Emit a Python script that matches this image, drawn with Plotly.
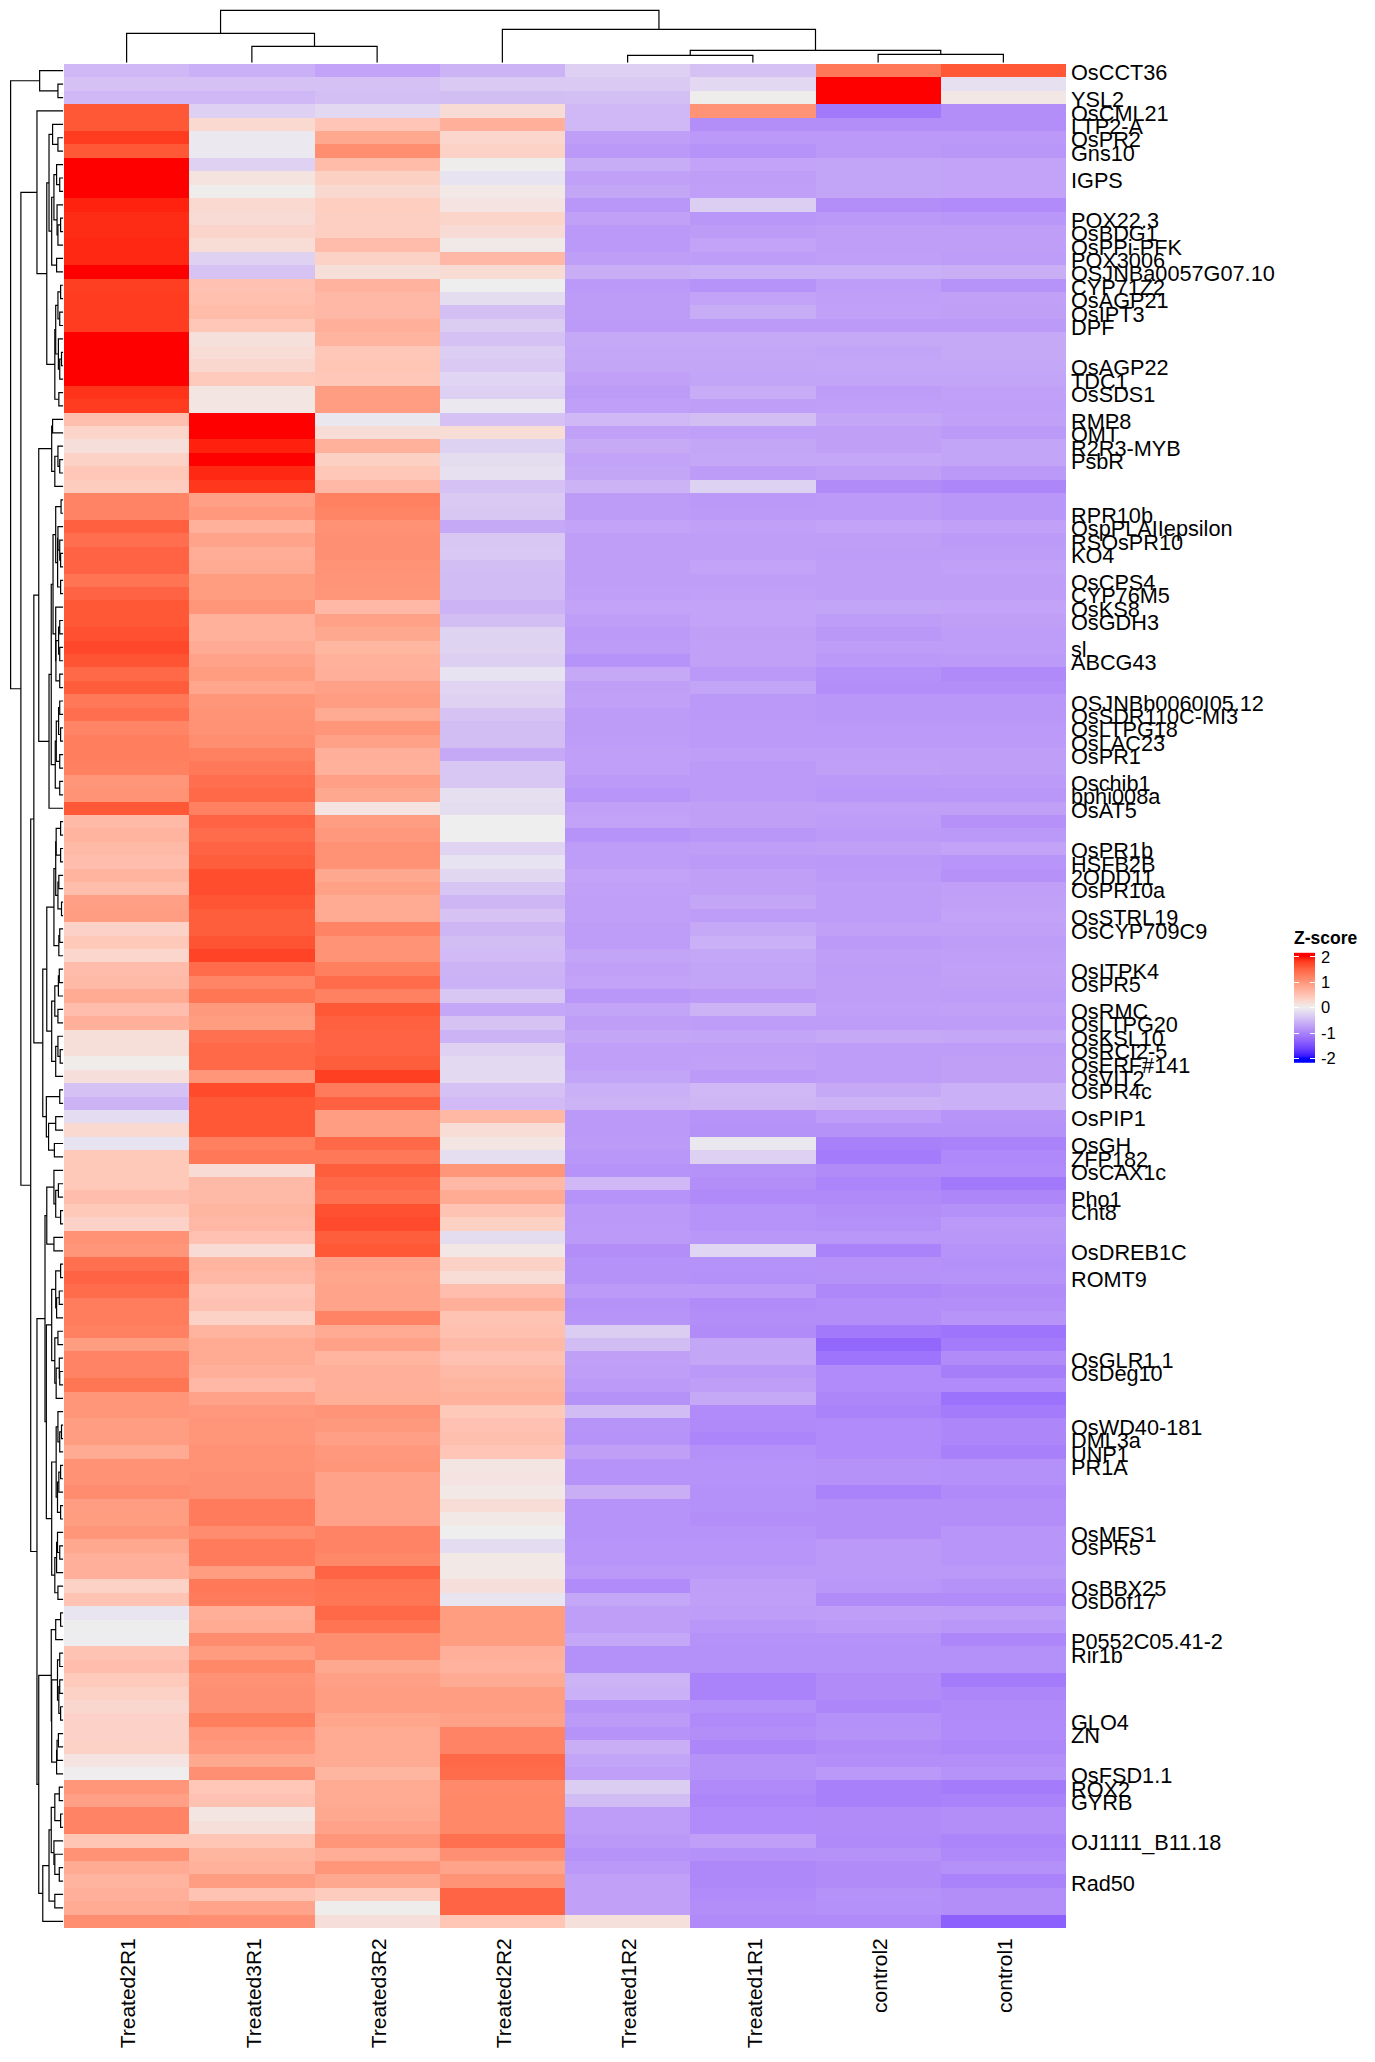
import numpy as np
import plotly.graph_objects as go

W, H = 1375, 2062

samples = ["Treated2R1", "Treated3R1", "Treated3R2", "Treated2R2",
           "Treated1R2", "Treated1R1", "control2", "control1"]

# z-scores per sample, top row first
treated2r1 = [-.5,-.42,-.5,1.6,1.6,1.8,1.6,2.1,2.1,2.1,
    1.92,1.88,1.88,1.9,1.9,2.1,1.78,1.8,1.8,1.8,
    2.1,2.1,2.1,2.1,1.85,1.8,.54,.3,.17,.33,
    .45,.4,1.2,1.2,1.53,1.4,1.5,1.5,1.35,1.5,
    1.6,1.6,1.65,1.72,1.63,1.45,1.57,1.3,1.4,1.18,
    1.25,1.25,1.22,1.0,1.03,1.6,.6,.67,.6,.55,
    .67,.56,.9,.92,.32,.43,.28,.57,.6,.78,
    .55,.72,.18,.18,.03,.17,-.42,-.55,-.17,.25,
    -.1,.43,.43,.43,.55,.43,.32,1.05,1.0,1.38,
    1.5,1.42,1.27,1.27,1.22,.93,1.2,1.2,1.33,1.0,
    1.0,.92,.92,.77,1.05,1.04,1.1,.92,.93,1.0,
    .8,.72,.72,.33,.5,-.08,-.01,-.02,.5,.55,
    .42,.33,.27,.32,.32,.33,.12,.01,1.0,.9,
    1.2,1.2,.48,1.05,.78,.67,.72,.78,1.08]
treated3r1 = [-.58,-.42,-.5,-.28,.25,-.05,-.05,-.27,.13,.02,
    .25,.22,.29,.2,-.27,-.4,.52,.53,.58,.45,
    .16,.2,.27,.42,.1,.1,2.1,2.1,1.93,2.1,
    1.9,1.83,.9,.98,.7,.86,.75,.77,.93,.93,
    1.0,.7,.7,.78,.87,.93,.83,1.0,1.03,1.05,
    1.08,1.22,1.3,1.4,1.45,1.22,1.5,1.42,1.5,1.55,
    1.68,1.68,1.62,1.55,1.55,1.63,1.75,1.42,1.18,1.33,
    .97,.93,1.38,1.45,1.45,1.0,1.7,1.6,1.6,1.6,
    1.24,1.3,.22,.6,.6,.65,.62,.52,.22,.67,
    .62,.46,.52,.33,.67,.77,.77,.72,.62,.87,
    .98,1.0,1.0,1.05,1.04,1.07,1.07,1.28,1.28,1.1,
    1.28,1.28,.93,1.3,1.28,.73,.77,1.1,.95,1.15,
    1.05,1.07,1.07,1.25,1.02,.98,.8,1.07,.45,.52,
    .1,.18,.48,.65,.7,.92,.5,.86,1.07]
treated3r2 = [-.7,-.42,-.44,-.2,.47,.8,1.08,.58,.35,.26,
    .38,.37,.36,.57,.33,.18,.68,.62,.62,.72,
    .67,.45,.48,.45,.92,.92,-.07,.2,.7,.35,
    .45,.62,1.22,1.18,1.05,1.07,1.07,1.03,1.02,1.0,
    .62,.88,.8,.64,.7,.72,.88,.92,.78,1.0,
    .88,.72,.7,.9,.8,.12,.92,.98,1.05,1.05,
    .8,.88,.77,.77,1.2,1.03,1.03,1.24,1.42,1.22,
    1.6,1.53,1.5,1.5,1.55,1.78,1.28,1.52,.92,.92,
    1.45,1.3,1.55,1.45,1.38,1.65,1.7,1.55,1.6,.87,
    .83,.85,.85,1.2,.78,.88,.66,.72,.72,.73,
    1.02,.97,.9,.98,1.0,.87,.87,.87,.87,1.2,
    1.2,1.15,1.48,1.35,1.33,1.45,1.35,1.08,1.08,.8,
    .9,.92,.92,.83,.78,.78,.78,.65,.78,.78,
    .8,.87,1.0,.75,1.0,.8,.4,.02,.17]
treated2r2 = [-.55,-.33,-.45,.22,.72,.28,.33,.02,-.1,.07,
    .12,.3,.22,.06,.62,.23,0,-.16,-.44,-.32,
    -.42,-.3,-.33,-.23,-.28,-.05,-.42,.2,-.26,-.16,
    -.13,-.42,-.33,-.36,-.65,-.37,-.35,-.45,-.47,-.47,
    -.55,-.45,-.25,-.25,-.29,-.1,-.24,-.27,-.4,-.45,
    -.45,-.64,-.36,-.37,-.14,-.16,0,0,-.24,-.1,
    -.21,-.38,-.52,-.4,-.52,-.45,-.48,-.55,-.57,-.37,
    -.66,-.4,-.55,-.27,-.18,-.18,-.42,-.48,.63,.2,
    .1,-.15,1.0,.62,.78,.5,.35,-.16,.08,.33,
    .2,.55,.72,.5,.53,.6,.52,.6,.65,.7,
    .43,.52,.54,.46,.1,.12,.07,.2,.07,0,
    -.17,.07,.07,.17,-.08,.93,.93,.93,.72,.68,
    .78,.92,.92,.88,1.2,1.2,1.45,1.42,1.13,1.15,
    1.15,1.15,1.38,1.07,.86,1.03,1.48,1.48,.48]
treated1r2 = [-.28,-.33,-.44,-.5,-.5,-.75,-.8,-.62,-.72,-.67,
    -.82,-.72,-.8,-.8,-.75,-.6,-.8,-.77,-.77,-.78,
    -.65,-.66,-.67,-.72,-.77,-.74,-.5,-.72,-.63,-.7,
    -.67,-.55,-.77,-.77,-.7,-.75,-.75,-.75,-.75,-.74,
    -.7,-.75,-.78,-.77,-.85,-.64,-.73,-.72,-.77,-.77,
    -.76,-.74,-.74,-.78,-.83,-.72,-.7,-.85,-.76,-.76,
    -.7,-.72,-.74,-.74,-.76,-.76,-.68,-.72,-.7,-.82,
    -.68,-.75,-.67,-.74,-.74,-.68,-.58,-.55,-.8,-.8,
    -.78,-.82,-.85,-.5,-.85,-.8,-.8,-.78,-.9,-.86,
    -.86,-.78,-.86,-.84,-.32,-.47,-.73,-.75,-.78,-.86,
    -.47,-.84,-.85,-.73,-.85,-.85,-.6,-.85,-.85,-.85,
    -.83,-.83,-.8,-.93,-.66,-.75,-.75,-.66,-.88,-.88,
    -.55,-.58,-.84,-.78,-.85,-.6,-.68,-.74,-.32,-.47,
    -.76,-.76,-.8,-.85,-.8,-.72,-.72,-.72,.16]
treated1r1 = [-.42,-.2,.02,1.03,-.9,-.8,-.85,-.7,-.75,-.74,
    -.3,-.82,-.77,-.7,-.76,-.58,-.85,-.7,-.62,-.78,
    -.65,-.66,-.67,-.68,-.61,-.75,-.45,-.74,-.67,-.66,
    -.77,-.26,-.8,-.78,-.72,-.75,-.75,-.7,-.75,-.72,
    -.7,-.7,-.73,-.72,-.72,-.8,-.68,-.8,-.8,-.78,
    -.78,-.75,-.78,-.78,-.78,-.73,-.73,-.82,-.75,-.78,
    -.73,-.73,-.67,-.76,-.64,-.58,-.66,-.68,-.68,-.78,
    -.55,-.76,-.68,-.74,-.72,-.78,-.5,-.52,-.84,-.86,
    -.07,-.28,-.86,-.9,-.94,-.85,-.85,-.82,-.23,-.86,
    -.88,-.78,-.92,-.9,-.92,-.67,-.67,-.8,-.75,-.64,
    -.93,-.94,-.98,-.88,-.85,-.85,-.88,-.88,-.9,-.85,
    -.83,-.83,-.8,-.75,-.74,-.76,-.82,-.86,-.88,-.88,
    -1.0,-1.0,-.88,-.94,-.9,-.97,-.86,-.86,-.94,-.97,
    -.93,-.93,-.74,-.88,-.96,-.96,-.93,-.9,-.94]
control2 = [1.3,2.1,2.1,-1.1,-.9,-.8,-.8,-.68,-.68,-.68,
    -.9,-.8,-.75,-.75,-.74,-.58,-.76,-.74,-.72,-.78,
    -.64,-.68,-.66,-.68,-.76,-.74,-.67,-.73,-.73,-.66,
    -.73,-.92,-.78,-.78,-.7,-.75,-.76,-.75,-.75,-.75,
    -.68,-.76,-.81,-.76,-.8,-.88,-.9,-.82,-.82,-.8,
    -.78,-.75,-.73,-.8,-.82,-.73,-.76,-.78,-.73,-.8,
    -.78,-.76,-.76,-.76,-.72,-.78,-.75,-.76,-.75,-.75,
    -.74,-.76,-.65,-.76,-.76,-.76,-.64,-.55,-.76,-.86,
    -1.03,-1.08,-.92,-.98,-.94,-.9,-.88,-.82,-1.0,-.87,
    -.86,-.96,-.9,-.9,-1.1,-1.27,-1.15,-.93,-.93,-.97,
    -1.0,-.93,-.93,-.93,-.86,-.86,-1.0,-.9,-.9,-.9,
    -.8,-.8,-.8,-.82,-.92,-.75,-.78,-.86,-.88,-.88,
    -.92,-.92,-.97,-.88,-.86,-.92,-.9,-.8,-1.02,-1.02,
    -.92,-.92,-.94,-.86,-.92,-.92,-.86,-.88,-.94]
control1 = [1.6,-.13,.08,-.9,-.9,-.8,-.82,-.7,-.7,-.7,
    -.93,-.82,-.75,-.75,-.76,-.6,-.85,-.72,-.73,-.78,
    -.64,-.64,-.66,-.68,-.72,-.74,-.72,-.78,-.68,-.68,
    -.8,-.97,-.82,-.82,-.72,-.78,-.76,-.72,-.75,-.75,
    -.7,-.73,-.76,-.76,-.78,-.94,-.9,-.82,-.82,-.8,
    -.78,-.75,-.75,-.78,-.82,-.73,-.87,-.8,-.7,-.83,
    -.87,-.74,-.72,-.7,-.72,-.76,-.74,-.72,-.73,-.76,
    -.72,-.76,-.66,-.76,-.73,-.73,-.58,-.58,-.84,-.86,
    -1.0,-.95,-.93,-1.1,-.97,-.88,-.8,-.82,-.85,-.88,
    -.85,-.92,-.9,-.84,-1.15,-1.08,-.92,-1.05,-.93,-1.17,
    -1.08,-.97,-.97,-1.03,-.88,-.88,-.94,-.9,-.9,-.83,
    -.83,-.83,-.8,-.86,-.93,-.76,-.82,-.97,-.88,-.88,
    -1.08,-.97,-.94,-.94,-.93,-.96,-.9,-.85,-1.08,-1.0,
    -.9,-.9,-.98,-.95,-.88,-1.0,-.9,-.9,-1.33]

# Gene names that get a label, with the row each one sits on
label_rows = [0,2,3,4,5,6,8,11,12,13,14,15,16,17,18,19,22,23,24,26,27,28,29,
    33,34,35,36,38,39,40,41,43,44,47,48,49,50,51,53,54,55,58,59,60,61,63,64,
    67,68,70,71,72,73,74,75,76,78,80,81,82,84,85,88,90,96,97,101,102,103,104,
    109,110,113,114,117,118,123,124,127,128,129,132,135]
label_names = ["OsCCT36","YSL2","OsCML21","LTP2-A","OsPR2","Gns10","IGPS","POX22.3",
    "OsBDG1","OsPPi-PFK","POX3006","OSJNBa0057G07.10","CYP71Z2","OsAGP21","OsIPT3",
    "DPF","OsAGP22","TDC1","OsSDS1","RMP8","OMT","R2R3-MYB","PsbR",
    "RPR10b","OspPLAIIepsilon","RSOsPR10","KO4","OsCPS4","CYP76M5","OsKS8","OsGDH3",
    "sl","ABCG43","OSJNBb0060I05.12","OsSDR110C-MI3","OsLTPG18","OsLAC23","OsPR1",
    "Oschib1","bphi008a","OsAT5","OsPR1b","HSFB2B","2ODD11","OsPR10a","OsSTRL19",
    "OsCYP709C9","OsITPK4","OsPR5","OsRMC","OsLTPG20","OsKSL10","OsRCI2-5",
    "OsERF#141","OsVIT2","OsPR4c","OsPIP1","OsGH","ZFP182","OsCAX1c","Pho1","Cht8",
    "OsDREB1C","ROMT9","OsGLR1.1","OsDeg10","OsWD40-181","DML3a","UNP1","PR1A",
    "OsMFS1","OsPR5","OsBBX25","OsDof17","P0552C05.41-2","Rir1b","GLO4","ZN",
    "OsFSD1.1","ROX2","GYRB","OJ1111_B11.18","Rad50"]

# Clustering trees: (merge height, first branch, second branch); ints are leaves
col_tree = (52.4, (29.4, 0, (16.4, 1, 2)),
            (33.4, 3, (12.4, (7.4, 4, 5), (8.4, 6, 7))))

rows_0_2 = (53, 0, (12, 1, 2))
rows_4_15 = (32, (24, 4, (12, 5, 6)),
             (26, (21, (15, 7, (8, 8, 9)), (14, 10, (12, (6, 11, 12), 13))), (15, 14, 15)))
rows_16_25 = (19, (17, (12, (6, 16, 17), (8, 18, 19)),
                   (11, 20, (8, (4, 21, 22), 23))), (10, 24, 25))
rows_3_25 = (59, 3, (37, rows_4_15, rows_16_25))
rows_26_31 = (26, (24, 26, 27), (19, (12, 28, (8, 29, 30)), 31))
rows_32_39 = (17, (5, 32, 33), (12.7, (12, 34, (8, 35, (6, 36, 37))), (6, 38, 39)))
rows_40_46 = (17, 40, (16.5, (10.5, (8, 41, 42), (8, 43, 44)), (8, 45, 46)))
rows_47_54 = (18, (15.7, (10.5, (8, 47, 48), (6, 49, 50)), (8, 51, 52)), (8, 53, 54))
rows_26_55 = (55, rows_26_31, (32, (27, (23, rows_32_39, rows_40_46), rows_47_54), 55))
rows_56_75 = (37, (21, (17, (16, (6, 56, 57), (6, 58, 59)), (12, (10, 60, 61), (4, 62, 63))),
                   (10, (8, 64, 65), 66)),
              (26, (19, (11, (9, 67, 68), 69), (12, 70, 71)),
               (17, (12, 72, (7, 73, 74)), 75)))
rows_76_81 = (38, (8, 76, 77), (33, (17, 78, 79), (20, 80, 81)))
rows_82_88 = (37, (21, 82, (17, (11, 83, 84), (6, 85, 86))), (21, 87, 88))
rows_89_114 = (38,
    (26, (17, (6, 89, 90), (15, (9, 91, 92), 93)),
     (19, (12, 94, 95), (16, (9, 96, (8, 97, 98)), 99))),
    (26, (16, (12, 100, (8, (4, 101, 102), 103)),
          (13, (10, (6, 104, 105), 106), (6, 107, 108))),
     (19, (15, (13, 109, (8, 110, 111)), 112), (12, 113, 114))))
rows_115_127 = (27, (17, (6, 115, 116), 117),
                (26, (13, (8, 118, 119), (10, (8, 120, 121), (6, 122, 123))),
                 (15, (14, (11, 124, 125), 126), 127)))
rows_128_138 = (46, (32, (27, (19, (9, 128, 129), (6, 130, 131)),
                          (21, 132, (19, 133, (9, 134, 135)))),
                     (19, 136, 137)), 138)
rows_lower = (73, (66, rows_26_55, (46, rows_56_75, rows_76_81)),
              (59, (41, rows_82_88, rows_89_114), (55, rows_115_127, rows_128_138)))
row_tree = (118, rows_0_2, (95, rows_3_25, rows_lower))

# Heatmap scale: blue -> grey -> red, interpolated in CIE LAB
def hex_to_lab(rgb):
    c = np.array(rgb, float) / 255
    c = np.where(c > 0.04045, ((c + 0.055) / 1.055) ** 2.4, c / 12.92)
    m = np.array([[.4124564, .3575761, .1804375], [.2126729, .7151522, .0721750],
                  [.0193339, .1191920, .9503041]])
    xyz = m @ c / np.array([.95047, 1.0, 1.08883])
    f = np.where(xyz > 0.008856, np.cbrt(xyz), 7.787 * xyz + 16 / 116)
    return np.array([116 * f[1] - 16, 500 * (f[0] - f[1]), 200 * (f[1] - f[2])])

def lab_to_rgb_string(lab):
    fy = (lab[0] + 16) / 116
    f = np.array([fy + lab[1] / 500, fy, fy - lab[2] / 200])
    xyz = np.where(f ** 3 > 0.008856, f ** 3, (f - 16 / 116) / 7.787) * np.array([.95047, 1.0, 1.08883])
    m = np.array([[3.2404542, -1.5371385, -0.4985314], [-0.9692660, 1.8760108, 0.0415560],
                  [0.0556434, -0.2040259, 1.0572252]])
    c = np.clip(m @ xyz, 0, 1)
    c = np.where(c > 0.0031308, 1.055 * c ** (1 / 2.4) - 0.055, 12.92 * c)
    r, g, b = np.round(c * 255).astype(int)
    return f"rgb({r},{g},{b})"

low, mid, high = hex_to_lab((0, 0, 255)), hex_to_lab((238, 238, 238)), hex_to_lab((255, 0, 0))
colorscale = []
for t in np.linspace(0, 1, 81):
    lab = low + (mid - low) * t * 2 if t < 0.5 else mid + (high - mid) * (t - 0.5) * 2
    colorscale.append([float(t), lab_to_rgb_string(lab)])

# Pixel frame of each panel, converted to paper fractions
def xdom(a, b):
    return [a / W, b / W]

def ydom(top, bottom):
    return [1 - bottom / H, 1 - top / H]

HM_L, HM_R, HM_T, HM_B = 64, 1066, 64, 1928
FONT = "Liberation Sans"

def tree_segments(node, xs, ys):
    """Walk a merge tree; return (leaf position, height) and collect elbow lines."""
    if not isinstance(node, tuple):
        return float(node), 0.0
    h, a, b = node
    pa, ha = tree_segments(a, xs, ys)
    pb, hb = tree_segments(b, xs, ys)
    xs += [pa, pa, pb, pb, None]
    ys += [ha, h, h, hb, None]
    return (pa + pb) / 2, h

matrix = np.array([treated2r1, treated3r1, treated3r2, treated2r2,
                   treated1r2, treated1r1, control2, control1]).T

fig = go.Figure()

fig.add_trace(go.Heatmap(z=matrix, x=list(range(len(samples))), y=list(range(matrix.shape[0])),
                         colorscale=colorscale, zmin=-2, zmax=2, showscale=False,
                         xaxis="x", yaxis="y"))

col_pos, col_h = [], []
tree_segments(col_tree, col_pos, col_h)
fig.add_trace(go.Scatter(x=col_pos, y=col_h, mode="lines", line=dict(color="black", width=1.2),
                         showlegend=False, hoverinfo="skip", xaxis="x2", yaxis="y2"))

row_pos, row_h = [], []
tree_segments(row_tree, row_pos, row_h)
fig.add_trace(go.Scatter(x=row_h, y=row_pos, mode="lines", line=dict(color="black", width=1.2),
                         showlegend=False, hoverinfo="skip", xaxis="x3", yaxis="y3"))

# Legend bar, slightly longer than the labelled -2..2 span
legend_ramp = np.linspace(-2.16, 2.16, 111)
fig.add_trace(go.Heatmap(z=legend_ramp.reshape(-1, 1), y=legend_ramp, x=[0],
                         colorscale=colorscale, zmin=-2, zmax=2, showscale=False,
                         hoverinfo="skip", xaxis="x4", yaxis="y4"))

hidden = dict(visible=False, showgrid=False, zeroline=False, fixedrange=True)

fig.update_layout(
    width=W, height=H, margin=dict(l=0, r=0, t=0, b=0, pad=0, autoexpand=False),
    paper_bgcolor="white", plot_bgcolor="white", showlegend=False,
    font=dict(family=FONT, color="black"),
    xaxis=dict(domain=xdom(HM_L, HM_R), range=[-0.5, 7.5], anchor="y", side="bottom",
               tickmode="array", tickvals=list(range(len(samples))), ticktext=samples,
               tickangle=-90, ticks="", ticklen=0, showgrid=False, zeroline=False, showline=False,
               ticklabelstandoff=5, ticklabelshift=2,
               tickfont=dict(family=FONT, size=21, color="black")),
    yaxis=dict(domain=ydom(HM_T, HM_B), range=[138.5, -0.5], anchor="x", side="right",
               tickmode="array", tickvals=label_rows, ticktext=label_names,
               ticks="", ticklen=0, showgrid=False, zeroline=False, showline=False,
               ticklabelstandoff=4, ticklabelshift=-2,
               tickfont=dict(family=FONT, size=21.7, color="black")),
    xaxis2=dict(domain=xdom(HM_L, HM_R), range=[-0.5, 7.5], anchor="y2", **hidden),
    yaxis2=dict(domain=ydom(0, 62.7), range=[0, 62.7], anchor="x2", **hidden),
    xaxis3=dict(domain=xdom(0, 63.3), range=[141.8, 0], anchor="y3", **hidden),
    yaxis3=dict(domain=ydom(HM_T, HM_B), range=[138.5, -0.5], anchor="x3", **hidden),
    xaxis4=dict(domain=xdom(1294, 1315), range=[-0.5, 0.5], anchor="y4", **hidden),
    yaxis4=dict(domain=ydom(952.7, 1062.7), range=[-2.16, 2.16], anchor="x4", side="right",
                tickmode="array", tickvals=[-2, -1, 0, 1, 2], ticktext=["-2", "-1", "0", "1", "2"],
                ticks="inside", ticklen=5, tickwidth=1, tickcolor="white", mirror="ticks",
                showgrid=False, zeroline=False, showline=False, ticklabelstandoff=5,
                tickfont=dict(family=FONT, size=16.5, color="black")),
    annotations=[dict(text="<b>Z-score</b>", xref="paper", yref="paper",
                      x=1292 / W, y=1 - 938 / H, xanchor="left", yanchor="middle",
                      showarrow=False, font=dict(family=FONT, size=17.5, color="black"))],
)

fig.write_html("out.html")
